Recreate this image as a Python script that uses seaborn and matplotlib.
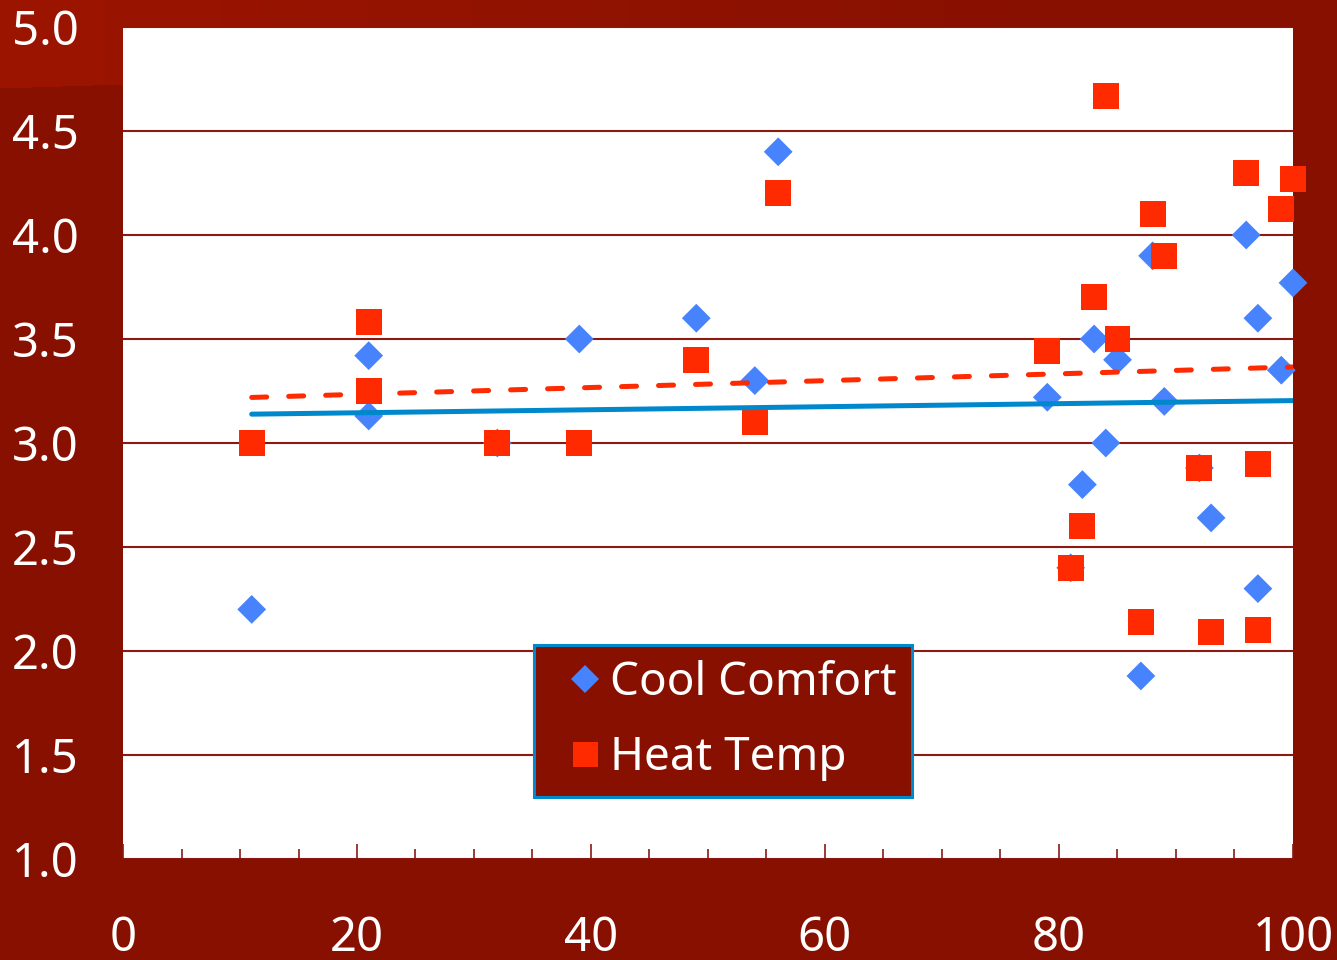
import numpy as np
import pandas as pd
import matplotlib
matplotlib.use("Agg")
import matplotlib.pyplot as plt
from matplotlib.lines import Line2D
import seaborn as sns

# Survey scores against outside temperature
cool_x = [11, 21, 21, 32, 39, 49, 54, 56, 79, 81, 82, 83, 84, 85, 87, 88, 89, 92, 93, 96, 97, 97, 99, 100]
cool_y = [2.20, 3.42, 3.13, 3.00, 3.50, 3.60, 3.30, 4.40, 3.22, 2.40, 2.80, 3.50, 3.00, 3.40,
          1.88, 3.90, 3.20, 2.88, 2.64, 4.00, 3.60, 2.30, 3.35, 3.77]
heat_x = [11, 21, 21, 32, 39, 49, 54, 56, 79, 81, 82, 83, 84, 85, 87, 88, 89, 92, 93, 96, 97, 97, 99, 100]
heat_y = [3.00, 3.58, 3.25, 3.00, 3.00, 3.40, 3.10, 4.20, 3.44, 2.40, 2.60, 3.70, 4.67, 3.50,
          2.14, 4.10, 3.90, 2.88, 2.09, 4.30, 2.90, 2.10, 4.125, 4.27]

series_names = ["Cool Comfort", "Heat Temp"]
x_ticks = [0, 20, 40, 60, 80, 100]
y_ticks = [1.0, 1.5, 2.0, 2.5, 3.0, 3.5, 4.0, 4.5, 5.0]

BG = "#871000"
BG_LIGHT = "#9c1500"
GRID = "#8a1a10"
BLUE = "#4683fc"
RED = "#ff2a00"
LINE_BLUE = "#0088cc"

sns.set_theme(style="white")
plt.rcParams["font.family"] = ["Noto Sans", "DejaVu Sans"]

W, H = 1337, 960
fig = plt.figure(figsize=(W / 100, H / 100), dpi=100, facecolor=BG)

# background with a lighter band along the top-left
bg_ax = fig.add_axes([0, 0, 1, 1], zorder=-10)
bg_ax.set_axis_off()
img = np.zeros((H, W, 3))
base = np.array(matplotlib.colors.to_rgb(BG))
light = np.array(matplotlib.colors.to_rgb(BG_LIGHT))
yy, xx = np.mgrid[0:H, 0:W]
edge = 88 - 4.0 * xx / 123.0
mask = (yy < np.where(xx < 123, edge, 27))
t = np.clip(xx / 1100.0, 0, 1)[..., None]
grad = light * (1 - t) + base * t
img[:] = base
img[mask] = grad[mask]
bg_ax.imshow(img, extent=[0, 1, 0, 1], aspect="auto", interpolation="bilinear")

ax = fig.add_axes([123 / W, 1 - 859 / H, (1293 - 123) / W, (859 - 27) / H])
ax.set_facecolor("white")

cool = pd.DataFrame({"x": cool_x, "y": cool_y})
heat = pd.DataFrame({"x": heat_x, "y": heat_y})

sns.scatterplot(data=cool, x="x", y="y", marker="D", s=215, color=BLUE,
                edgecolor="none", linewidth=0, ax=ax, legend=False, zorder=3, clip_on=False)
sns.scatterplot(data=heat, x="x", y="y", marker="s", s=350, color=RED,
                edgecolor="none", linewidth=0, ax=ax, legend=False, zorder=4, clip_on=False)

# linear trend lines
sns.regplot(data=cool, x="x", y="y", scatter=False, ci=None, truncate=True, ax=ax,
            color=LINE_BLUE, line_kws={"lw": 3.6, "solid_capstyle": "round", "zorder": 5})
sns.regplot(data=heat, x="x", y="y", scatter=False, ci=None, truncate=True, ax=ax,
            color=RED, line_kws={"lw": 3.6, "ls": (0, (3.0, 4.4)),
                                 "dash_capstyle": "round", "zorder": 5})

ax.set_xlim(0, 100)
ax.set_ylim(1.0, 5.0)
ax.set_xlabel("")
ax.set_ylabel("")
ax.set_xticks(x_ticks)
ax.set_xticks(np.arange(0, 101, 5), minor=True)
ax.set_yticks(y_ticks)
ax.set_xticklabels([str(v) for v in x_ticks])
ax.set_yticklabels([f"{v:.1f}" for v in y_ticks])

ax.yaxis.grid(True, color=GRID, lw=1.5, zorder=1)
ax.xaxis.grid(False)
for s in ax.spines.values():
    s.set_visible(False)

ax.tick_params(axis="x", which="major", direction="in", length=11, width=1.2,
               color=GRID, pad=40, labelsize=34, labelcolor="white", bottom=True)
ax.tick_params(axis="x", which="minor", direction="in", length=7, width=1.2,
               color=GRID, bottom=True)
ax.tick_params(axis="y", which="major", length=0, pad=32, labelsize=34, labelcolor="white")

handles = [
    Line2D([], [], ls="none", marker="D", markersize=14.7, color=BLUE, markeredgewidth=0),
    Line2D([], [], ls="none", marker="s", markersize=18.0, color=RED, markeredgewidth=0),
]
leg = ax.legend(handles, series_names, loc="lower left", bbox_to_anchor=(0.351, 0.0745),
                borderaxespad=0, fontsize=33, frameon=True, fancybox=False, framealpha=1,
                facecolor=BG, edgecolor=LINE_BLUE, handlelength=1.55,
                handletextpad=-0.22, borderpad=0.34, labelspacing=0.64)
leg.get_frame().set_linewidth(2.2)
for txt in leg.get_texts():
    txt.set_color("white")

fig.savefig("out.png", dpi=100, facecolor=BG)
